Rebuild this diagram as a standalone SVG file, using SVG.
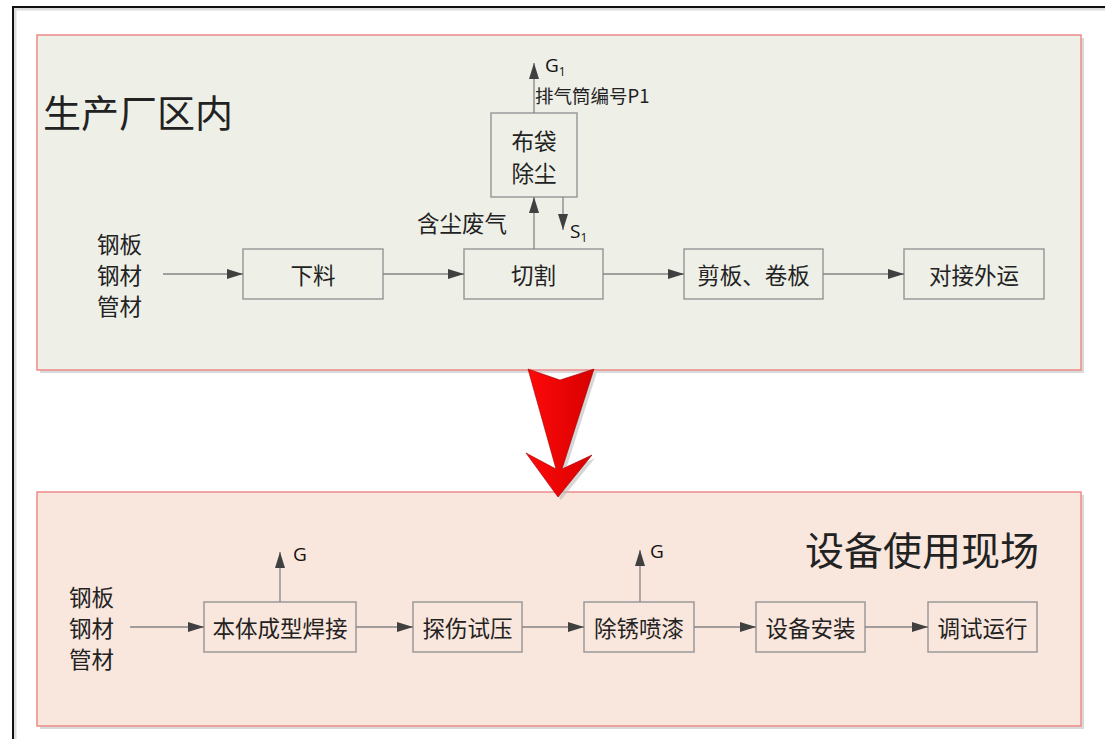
<svg xmlns="http://www.w3.org/2000/svg" width="1105" height="739" viewBox="0 0 1105 739">
<defs>
<style>
.panel-shadow{fill:#d9d9d9;}
.box{fill:none;stroke:#9a9a9a;stroke-width:1.5;}
.ln{fill:none;stroke:#858585;stroke-width:1.3;}
.cjk{font-family:"Noto Sans CJK SC","Noto Sans",sans-serif;fill:#222;dominant-baseline:central;}
.t22{font-size:22.5px;}
.lat{font-family:"Open Sans","Liberation Sans",sans-serif;fill:#111;font-size:19px;}
</style>
<marker id="ah" viewBox="0 0 16 10" refX="16" refY="5" markerWidth="16" markerHeight="10" markerUnits="userSpaceOnUse" orient="auto">
<path d="M0,0 L16,5 L0,10 Z" fill="#404040"/>
</marker>
<linearGradient id="redg" x1="0" y1="0" x2="1" y2="0">
<stop offset="0" stop-color="#ff0a0a"/>
<stop offset="1" stop-color="#d80000"/>
</linearGradient>
</defs>
<rect width="1105" height="739" fill="#ffffff"/>
<!-- outer frame -->
<path d="M15,741 V9 H1107" fill="none" stroke="#dddddd" stroke-width="3"/>
<path d="M13,741 V7 H1107" fill="none" stroke="#111111" stroke-width="2"/>
<!-- panels -->
<g id="panel-factory">
<rect x="40" y="38" width="1044" height="335" class="panel-shadow"/>
<rect x="37" y="35" width="1044" height="335" fill="#eeefe7" stroke="#ee8a8a" stroke-width="1.5"/>
<text class="cjk" x="43" y="110" font-size="38">生产厂区内</text>
</g>
<g id="panel-site">
<rect x="40" y="495" width="1044" height="234" class="panel-shadow"/>
<rect x="37" y="492" width="1044" height="234" fill="#f9e6dc" stroke="#ee8a8a" stroke-width="1.5"/>
<text class="cjk" x="805" y="548" font-size="39">设备使用现场</text>
</g>
<!-- big red arrow -->
<g id="big-arrow">
<polygon points="531,372 563,383 597,372 565,472 595,458 561,500 529,456 559,472" fill="#bbbbbb" opacity="0.6"/>
<polygon points="528,369 560,380 594,369 562,469 592,455 558,497 526,453 556,469" fill="url(#redg)" stroke="#a00000" stroke-width="0.6"/>
</g>
<!-- top nodes -->
<g id="input-top"><text class="cjk t22" x="97" y="243">钢板</text><text class="cjk t22" x="97" y="274">钢材</text><text class="cjk t22" x="97" y="305">管材</text></g>
<g id="n-xialiao"><rect class="box" x="243" y="249" width="140" height="50"/><text class="cjk t22" x="313" y="274" text-anchor="middle">下料</text></g>
<g id="n-qiege"><rect class="box" x="464" y="249" width="139" height="50"/><text class="cjk t22" x="533.5" y="274" text-anchor="middle">切割</text></g>
<g id="n-jianban"><rect class="box" x="684" y="249" width="139" height="50"/><text class="cjk t22" x="753.5" y="274" text-anchor="middle">剪板、卷板</text></g>
<g id="n-duijie"><rect class="box" x="904" y="249" width="140" height="50"/><text class="cjk t22" x="974" y="274" text-anchor="middle">对接外运</text></g>
<g id="n-budai"><rect class="box" x="491" y="113" width="86" height="84"/><text class="cjk t22" x="534" y="140" text-anchor="middle">布袋</text><text class="cjk t22" x="534" y="172" text-anchor="middle">除尘</text></g>
<g id="labels-top">
<text class="cjk t22" x="417" y="222">含尘废气</text>
<text class="cjk" x="535" y="95" font-size="18.5">排气筒编号P1</text>
<text class="lat" x="545" y="72">G<tspan font-size="12" dy="4">1</tspan></text>
<text class="lat" x="570" y="238">S<tspan font-size="12" dy="4">1</tspan></text>
</g>
<!-- bottom nodes -->
<g id="input-bottom"><text class="cjk t22" x="69" y="596">钢板</text><text class="cjk t22" x="69" y="627">钢材</text><text class="cjk t22" x="69" y="658">管材</text></g>
<g id="n-benti"><rect class="box" x="204" y="602" width="152" height="50"/><text class="cjk t22" x="280" y="627" text-anchor="middle">本体成型焊接</text></g>
<g id="n-tanshang"><rect class="box" x="413" y="602" width="109" height="50"/><text class="cjk t22" x="467.5" y="627" text-anchor="middle">探伤试压</text></g>
<g id="n-chuxiu"><rect class="box" x="584" y="602" width="110" height="50"/><text class="cjk t22" x="639" y="627" text-anchor="middle">除锈喷漆</text></g>
<g id="n-anzhuang"><rect class="box" x="756" y="602" width="109" height="50"/><text class="cjk t22" x="810.5" y="627" text-anchor="middle">设备安装</text></g>
<g id="n-tiaoshi"><rect class="box" x="928" y="602" width="109" height="50"/><text class="cjk t22" x="982.5" y="627" text-anchor="middle">调试运行</text></g>
<g id="labels-bottom">
<text class="lat" x="293" y="561">G</text>
<text class="lat" x="650" y="558">G</text>
</g>
<!-- connectors -->
<g id="connectors">
<line class="ln" x1="163" y1="274" x2="243" y2="274" marker-end="url(#ah)"/>
<line class="ln" x1="383" y1="274" x2="464" y2="274" marker-end="url(#ah)"/>
<line class="ln" x1="603" y1="274" x2="684" y2="274" marker-end="url(#ah)"/>
<line class="ln" x1="823" y1="274" x2="904" y2="274" marker-end="url(#ah)"/>
<line class="ln" x1="534" y1="249" x2="534" y2="197" marker-end="url(#ah)"/>
<line class="ln" x1="534" y1="113" x2="534" y2="63" marker-end="url(#ah)"/>
<line class="ln" x1="563" y1="197" x2="563" y2="230" marker-end="url(#ah)"/>
<line class="ln" x1="130" y1="627" x2="204" y2="627" marker-end="url(#ah)"/>
<line class="ln" x1="356" y1="627" x2="413" y2="627" marker-end="url(#ah)"/>
<line class="ln" x1="522" y1="627" x2="584" y2="627" marker-end="url(#ah)"/>
<line class="ln" x1="694" y1="627" x2="756" y2="627" marker-end="url(#ah)"/>
<line class="ln" x1="865" y1="627" x2="928" y2="627" marker-end="url(#ah)"/>
<line class="ln" x1="280" y1="602" x2="280" y2="552" marker-end="url(#ah)"/>
<line class="ln" x1="640" y1="602" x2="640" y2="550" marker-end="url(#ah)"/>
</g>
</svg>
